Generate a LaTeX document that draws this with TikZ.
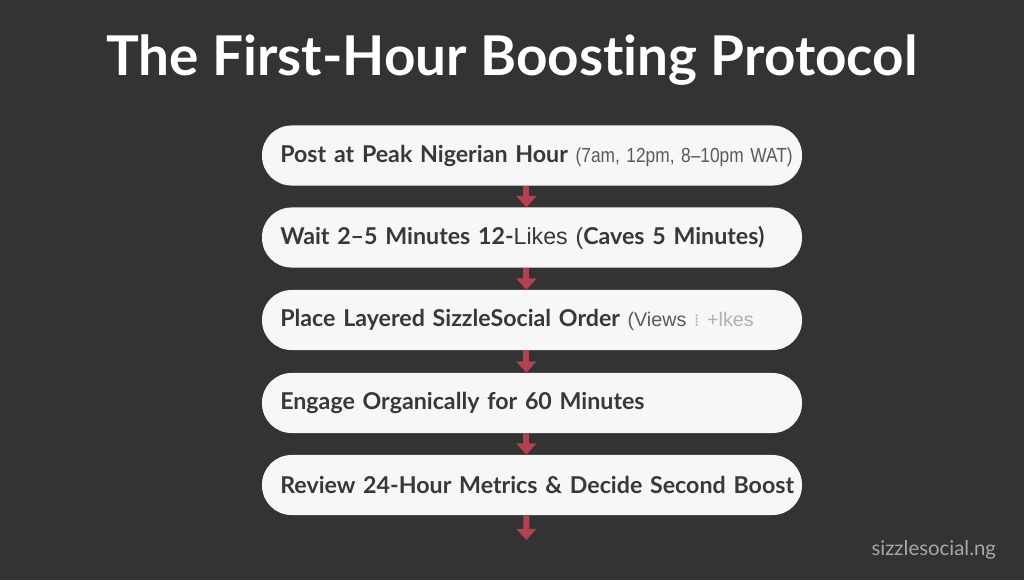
\documentclass[tikz,border=0pt]{standalone}
\usepackage{fontspec}
\setmainfont{Lato}[Ligatures={TeX,NoCommon}]
\newfontfamily\narrowfont{Liberation Sans}
\newfontfamily\symfont{DejaVu Sans}
\usetikzlibrary{arrows.meta}
\definecolor{bgdark}{HTML}{333333}
\definecolor{boxfill}{HTML}{F7F7F7}
\definecolor{boxtext}{HTML}{383838}
\definecolor{softtext}{HTML}{5A5A5A}
\definecolor{fainttext}{HTML}{B0B0B0}
\definecolor{arrowred}{HTML}{B5404F}
\definecolor{marktext}{HTML}{A8A8A8}
\tikzset{
  stepbox/.style={fill=boxfill, rounded corners=21pt, minimum height=42.7pt,
    text width=366pt, inner xsep=9pt, inner ysep=0pt, align=left,
    text=boxtext, font=\fontsize{16.5}{20}\selectfont\bfseries},
  flowarrow/.style={draw=arrowred, line width=4.2pt,
    -{Triangle[width=14pt,length=8pt]}},
  titletext/.style={text=white, font=\fontsize{39}{46}\selectfont\bfseries},
}
\newcommand*{\StepBox}[3]{% #1 = name, #2 = y, #3 = text
\node [stepbox] (#1) at (532,#2) {\hspace*{4pt}\makebox[0pt][l]{#3}};
}

\begin{document}
\begin{tikzpicture}[x=0.025cm, y=-0.025cm]
\fill [bgdark] (0,0) rectangle (1024,580);
\useasboundingbox (0,0) rectangle (1024,580);

\node [titletext] (title) at (512,60) {The First-Hour Boosting Protocol};

\StepBox{b1}{155.5}{Post at Peak Nigerian Hour {\color{softtext}\scalebox{0.85}[1]{\narrowfont\mdseries\fontsize{14.5}{18}\selectfont(7am, 12pm, 8–10pm WAT)}}}
\StepBox{b2}{237.5}{Wait 2–5 Minutes 12-{\narrowfont\mdseries Likes (}Caves 5 Minutes)}
\StepBox{b3}{320}{Place Layered SizzleSocial Order {\color{softtext}\narrowfont\mdseries\fontsize{14}{18}\selectfont(Views {\color{fainttext}\symfont\fontsize{12}{14}\selectfont ⁞} {\color{fainttext}+lkes}}}
\StepBox{b4}{403}{Engage Organically for 60 Minutes}
\StepBox{b5}{485}{Review 24-Hour Metrics \& Decide Second Boost}

\foreach \a/\b in {b1/b2,b2/b3,b3/b4,b4/b5} {
  \draw [flowarrow] ([xshift=-4pt]\a.south) -- ([xshift=-4pt]\b.north);
}
\coordinate (tail) at (526.4,540);
\draw [flowarrow] ([xshift=-4pt]b5.south) -- (tail);

\node [text=marktext, font=\fontsize{14.5}{17}\selectfont, anchor=east] (mark) at (1001,550) {sizzlesocial.ng};
\end{tikzpicture}
\end{document}
